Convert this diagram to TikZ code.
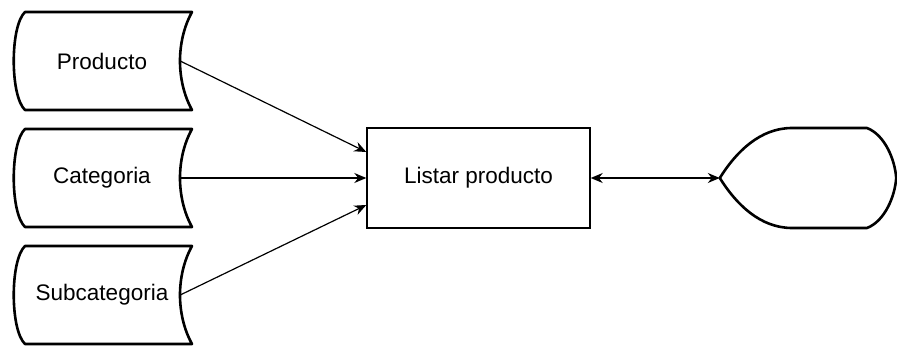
\documentclass[tikz,border=0pt]{standalone}
\usepackage{fontspec}
\setmainfont{Liberation Sans}
\usepackage{tikz}
\usetikzlibrary{arrows,arrows.meta}
\tikzstyle{arrow} = [line width=1.2pt,-{Stealth[length=12pt,width=10pt]}]
\tikzstyle{dblarrow} = [line width=1.2pt,{Stealth[length=12pt,width=10pt]}-{Stealth[length=12pt,width=10pt]}]
\tikzstyle{store} = [minimum width=156pt,minimum height=98pt,inner sep=0pt,font=\fontsize{22.5}{27}\selectfont]
\tikzstyle{outline} = [line width=2.6pt,line join=round]
\tikzstyle{process} = [draw,line width=1.4pt,minimum width=223pt,minimum height=100pt,inner sep=0pt,font=\fontsize{22.5}{27}\selectfont]
\tikzstyle{display} = [minimum width=176pt,minimum height=101pt,inner sep=0pt]

\begin{document}
\begin{tikzpicture}[x=1pt,y=-1pt]
		\useasboundingbox (0,0) rectangle (897,350);

		% define constants
		\def \h {49}

		% Draw the data stores
		\foreach \y/\name/\txt in {61/prod/Producto,178/cat/Categoria,295/sub/Subcategoria}{
			\node[store] (\name) at (102,\y) {\txt};
			\draw[outline] (25,\y-\h) -- (192,\y-\h)
				.. controls (176,\y-20) and (176,\y+20) .. (192,\y+\h)
				-- (25,\y+\h)
				.. controls (10,\y+35) and (10,\y-35) .. (25,\y-\h) -- cycle;
		}

		% process and display
		\node[process] (list) at (478.5,178) {Listar producto};
		\node[display] (disp) at (808,178) {};
		\draw[outline] (disp.west) .. controls (736,152) and (760,128) .. (792,128)
			-- (867,128) .. controls (885,135) and (895,160) .. (disp.east)
			.. controls (895,196) and (885,221) .. (867,228)
			-- (792,228) .. controls (760,228) and (736,204) .. (disp.west) -- cycle;

		% Draw the flows
		\draw[arrow] (prod.east) -- ([yshift=26pt]list.west);
		\draw[arrow] (cat.east) -- (list.west);
		\draw[arrow] (sub.east) -- ([yshift=-27pt]list.west);
		\draw[dblarrow] (list.east) -- (disp.west);
\end{tikzpicture}
\end{document}
